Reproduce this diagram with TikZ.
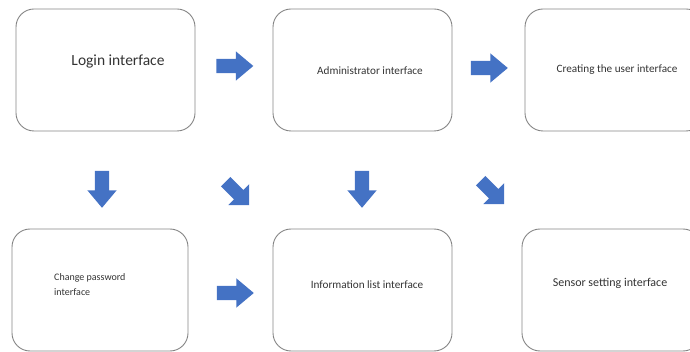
\documentclass[tikz,border=0pt]{standalone}
\usepackage{fontspec}
\setmainfont{Carlito}
\usepackage{xcolor}
\usepackage{tikz}
\usetikzlibrary{shapes.arrows,positioning}

\definecolor{arrblue}{HTML}{4472C4}
\definecolor{boxgray}{HTML}{858585}
\definecolor{txtgray}{HTML}{333333}

\begin{document}
\begin{tikzpicture}[
  x=1pt, y=-1pt,
  box/.style={draw=boxgray, line width=0.9pt, rounded corners=18pt, minimum width=179pt, minimum height=122pt},
  lab/.style={font=\fontsize{11.2}{13}\selectfont, text=txtgray, inner sep=0pt},
  blk/.style={single arrow, fill=arrblue, draw=none, inner sep=0pt, inner ysep=7pt,
    minimum height=37pt, single arrow head extend=7.5pt, single arrow tip angle=80},
  dblk/.style={blk, minimum height=33pt, inner ysep=6.5pt, single arrow head extend=8pt, single arrow tip angle=90}
]
\useasboundingbox (0,0) rectangle (690,352);

% interface boxes
\node[box] (login) at (105.5,70) {};
\node[box] (admin) at (362.5,70) {};
\node[box] (create) at (614.5,70) {};
\node[box, minimum width=176pt] (chpw) at (100,290) {};
\node[box] (info) at (362.5,290) {};
\node[box] (sensor) at (611.5,290) {};

% texts
\node[lab, font=\fontsize{15.5}{18}\selectfont] (login-t) at (118,62) {Login interface};
\node[lab] (admin-t) at (370,71) {Administrator interface};
\node[lab] (create-t) at (617,70) {Creating the user interface};
\node[lab, align=left, anchor=west, font=\fontsize{10}{15}\selectfont] (chpw-t) at (54,284.5) {Change password\\interface};
\node[lab] (info-t) at (367,285) {Information list interface};
\node[lab, font=\fontsize{12}{14}\selectfont] (sensor-t) at (610,283) {Sensor setting interface};

% block arrows
\node[blk] (a1) at (230.5,66) {};
\node[blk] (a2) at (485,68) {};
\node[blk] (a3) at (231,293) {};
\node[blk, rotate=-90] (d1) at (102,185) {};
\node[blk, rotate=-90] (d2) at (362,185) {};
\node[dblk, rotate=-45] (g1) at (235,191) {};
\node[dblk, rotate=-45] (g2) at (490,190) {};
\end{tikzpicture}
\end{document}
